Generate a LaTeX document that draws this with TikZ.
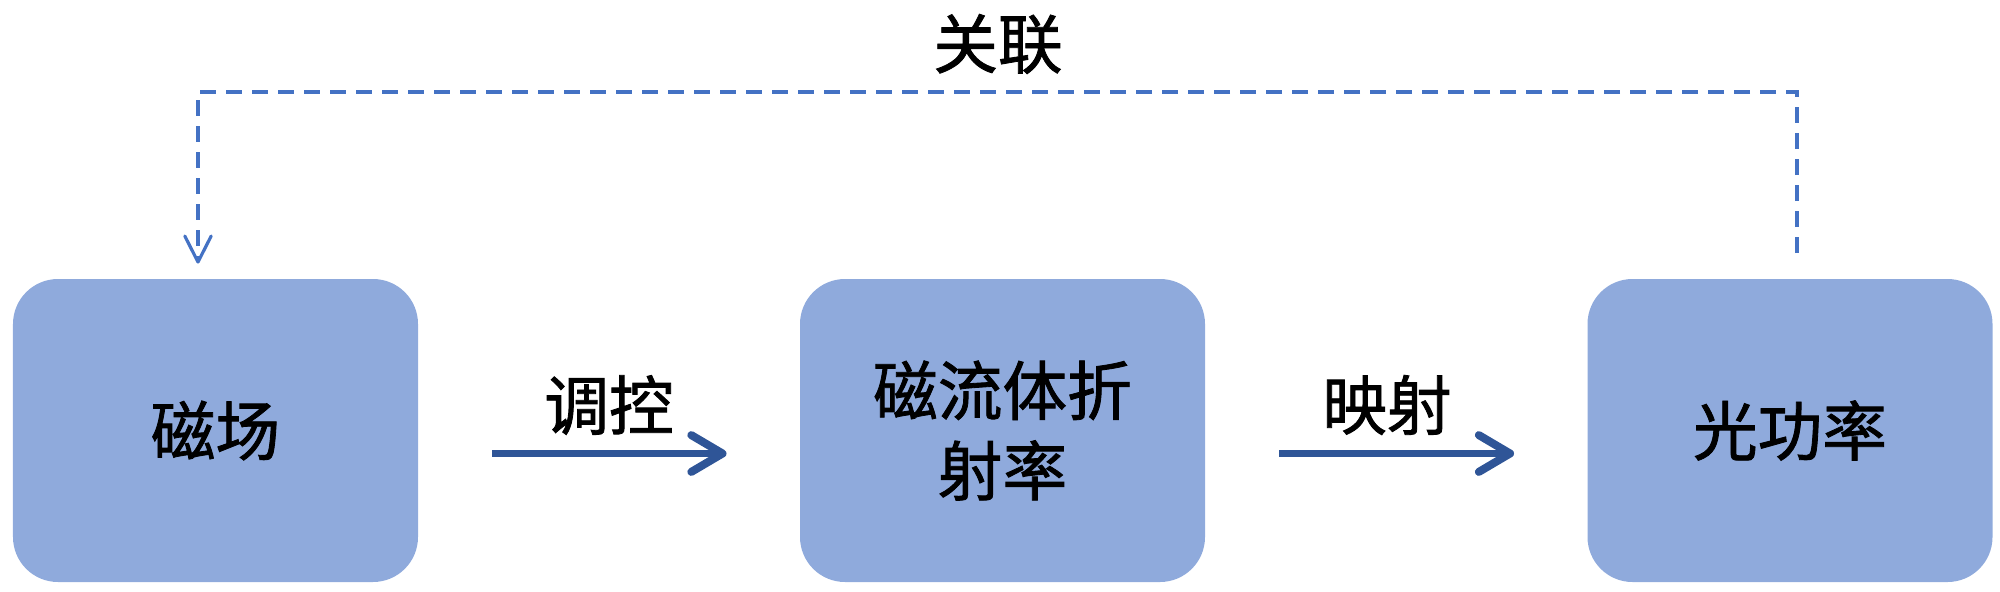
\documentclass[tikz,border=0pt]{standalone}
\usepackage{fontspec}
\setmainfont{Noto Sans CJK SC}[BoldFont=Noto Sans CJK SC, BoldFeatures={FakeBold=1.3}]
\definecolor{boxfill}{HTML}{8FAADC}
\definecolor{arrowblue}{HTML}{2F5597}
\definecolor{dashblue}{HTML}{4472C4}
\begin{document}
\begin{tikzpicture}[x=0.25mm,y=-0.25mm,
  blockbox/.style={fill=boxfill, draw=none, rounded corners=11.25mm,
    minimum width=101.25mm, minimum height=75.75mm, inner sep=0pt,
    align=center, font=\fontsize{46}{57}\selectfont\bfseries},
  flowline/.style={draw=arrowblue, line width=1.75mm},
  flowhead/.style={draw=arrowblue, line width=2mm, line cap=round, line join=round},
  linkline/.style={draw=dashblue, line width=0.8mm, dash pattern=on 4mm off 2.5mm},
  linkhead/.style={draw=dashblue, line width=0.8mm, line cap=round, line join=round},
  lbl/.style={font=\fontsize{46}{57}\selectfont\bfseries, inner sep=0pt}]
\useasboundingbox (0,0) rectangle (2000,591);
\node[blockbox] (b1) at (215.5,430.5) {磁场};
\node[blockbox] (b2) at (1002.5,430.5) {磁流体折\\射率};
\node[blockbox] (b3) at (1790,430.5) {光功率};
% arrow 1
\coordinate (t1) at ([xshift=-19.3mm,yshift=-5.75mm]b2.west);
\draw[flowline] ([xshift=18.5mm,yshift=-5.75mm]b1.east) -- ([xshift=-1mm]t1);
\draw[flowhead] ([shift={(-7.8mm,4.6mm)}]t1) -- (t1) -- ([shift={(-7.8mm,-4.6mm)}]t1);
% arrow 2
\coordinate (t2) at ([xshift=-19.3mm,yshift=-5.75mm]b3.west);
\draw[flowline] ([xshift=18.5mm,yshift=-5.75mm]b2.east) -- ([xshift=-1mm]t2);
\draw[flowhead] ([shift={(-7.8mm,4.6mm)}]t2) -- (t2) -- ([shift={(-7.8mm,-4.6mm)}]t2);
\node[lbl] (l1) at (609,405) {调控};
\node[lbl] (l2) at (1387,405) {映射};
% dashed link
\coordinate (s) at (1797,253);
\coordinate (c1) at (1797,92);
\coordinate (c2) at (198,92);
\coordinate (e) at (198,262);
\draw[linkline] (s) -- (c1) -- (c2) -- (e);
\draw[linkhead] ([shift={(-3.3mm,6.5mm)}]e) -- (e) -- ([shift={(3.3mm,6.5mm)}]e);
\node[lbl] (l3) at (998,44) {关联};
\end{tikzpicture}
\end{document}
